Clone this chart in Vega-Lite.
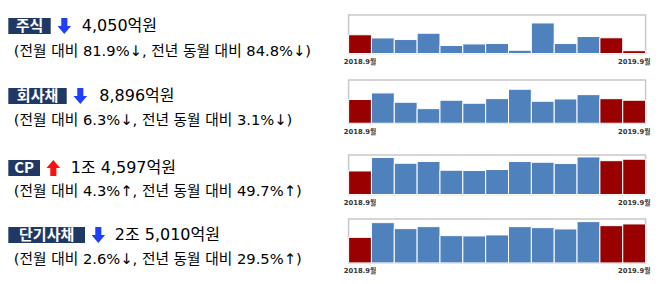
{
  "$schema": "https://vega.github.io/schema/vega-lite/v6.json",
  "background": "white",
  "padding": {"left": 8.3, "top": 13.95, "right": 0, "bottom": 0},
  "config": {"view": {"stroke": null}, "font": "DejaVu Sans, Noto Sans CJK KR"},
  "datasets": {
    "summary": [
      {"cat": "주식", "dir": "down", "amount": "4,050억원", "change": "(전월 대비 81.9%↓, 전년 동월 대비 84.8%↓)"},
      {"cat": "회사채", "dir": "down", "amount": "8,896억원", "change": "(전월 대비 6.3%↓, 전년 동월 대비 3.1%↓)"},
      {"cat": "CP", "dir": "up", "amount": "1조 4,597억원", "change": "(전월 대비 4.3%↑, 전년 동월 대비 49.7%↑)"},
      {"cat": "단기사채", "dir": "down", "amount": "2조 5,010억원", "change": "(전월 대비 2.6%↓, 전년 동월 대비 29.5%↑)"}
    ],
    "flows": [
      {"cat": "주식", "month": "2018.9", "value": 26645},
      {"cat": "주식", "month": "2018.10", "value": 22150},
      {"cat": "주식", "month": "2018.11", "value": 19880},
      {"cat": "주식", "month": "2018.12", "value": 28830},
      {"cat": "주식", "month": "2019.1", "value": 11360},
      {"cat": "주식", "month": "2019.2", "value": 13630},
      {"cat": "주식", "month": "2019.3", "value": 14200},
      {"cat": "주식", "month": "2019.4", "value": 4690},
      {"cat": "주식", "month": "2019.5", "value": 43450},
      {"cat": "주식", "month": "2019.6", "value": 14200},
      {"cat": "주식", "month": "2019.7", "value": 24140},
      {"cat": "주식", "month": "2019.8", "value": 22376},
      {"cat": "주식", "month": "2019.9", "value": 4050},
      {"cat": "회사채", "month": "2018.9", "value": 9181},
      {"cat": "회사채", "month": "2018.10", "value": 11720},
      {"cat": "회사채", "month": "2018.11", "value": 8120},
      {"cat": "회사채", "month": "2018.12", "value": 5650},
      {"cat": "회사채", "month": "2019.1", "value": 8900},
      {"cat": "회사채", "month": "2019.2", "value": 7740},
      {"cat": "회사채", "month": "2019.3", "value": 9520},
      {"cat": "회사채", "month": "2019.4", "value": 13150},
      {"cat": "회사채", "month": "2019.5", "value": 8510},
      {"cat": "회사채", "month": "2019.6", "value": 9400},
      {"cat": "회사채", "month": "2019.7", "value": 11060},
      {"cat": "회사채", "month": "2019.8", "value": 9494},
      {"cat": "회사채", "month": "2019.9", "value": 8896},
      {"cat": "CP", "month": "2018.9", "value": 9751},
      {"cat": "CP", "month": "2018.10", "value": 15300},
      {"cat": "CP", "month": "2018.11", "value": 12940},
      {"cat": "CP", "month": "2018.12", "value": 13645},
      {"cat": "CP", "month": "2019.1", "value": 10050},
      {"cat": "CP", "month": "2019.2", "value": 9924},
      {"cat": "CP", "month": "2019.3", "value": 10340},
      {"cat": "CP", "month": "2019.4", "value": 13645},
      {"cat": "CP", "month": "2019.5", "value": 13356},
      {"cat": "CP", "month": "2019.6", "value": 12820},
      {"cat": "CP", "month": "2019.7", "value": 15550},
      {"cat": "CP", "month": "2019.8", "value": 13995},
      {"cat": "CP", "month": "2019.9", "value": 14597},
      {"cat": "단기사채", "month": "2018.9", "value": 16420},
      {"cat": "단기사채", "month": "2018.10", "value": 25840},
      {"cat": "단기사채", "month": "2018.11", "value": 22000},
      {"cat": "단기사채", "month": "2018.12", "value": 23280},
      {"cat": "단기사채", "month": "2019.1", "value": 17510},
      {"cat": "단기사채", "month": "2019.2", "value": 17320},
      {"cat": "단기사채", "month": "2019.3", "value": 17960},
      {"cat": "단기사채", "month": "2019.4", "value": 23280},
      {"cat": "단기사채", "month": "2019.5", "value": 22640},
      {"cat": "단기사채", "month": "2019.6", "value": 21800},
      {"cat": "단기사채", "month": "2019.7", "value": 26490},
      {"cat": "단기사채", "month": "2019.8", "value": 23920},
      {"cat": "단기사채", "month": "2019.9", "value": 25010}
    ]
  },
  "spacing": 0,
  "vconcat": [
    {
      "spacing": 2.3,
      "hconcat": [
        {
          "spacing": 0,
          "vconcat": [
            {"width": 330, "height": 2.6, "data": {"name": "summary"}, "mark": {"type": "text", "text": "", "fontSize": 0}},
            {
              "spacing": 4,
              "hconcat": [
                {"width": 42.4, "height": 16, "data": {"name": "summary"}, "transform": [{"filter": "datum.cat == '주식'"}], "view": {"fill": "#203864"},
                 "mark": {"type": "text", "color": "white", "fontSize": 15, "fontWeight": "bold", "font": "Noto Sans CJK KR"}, "encoding": {"text": {"field": "cat"}}},
                {"width": 18, "height": 16, "data": {"name": "summary"}, "transform": [{"filter": "datum.cat == '주식'"}],
                 "mark": {"type": "point", "filled": true, "size": 256, "opacity": 1, "strokeWidth": 0},
                 "encoding": {
                   "shape": {"field": "dir", "type": "nominal", "scale": {"domain": ["down", "up"], "range": ["M-0.38,-1L0.38,-1L0.38,0L0.85,0L0,1L-0.85,0L-0.38,0Z", "M-0.38,1L0.38,1L0.38,0L0.85,0L0,-1L-0.85,0L-0.38,0Z"]}, "legend": null},
                   "color": {"field": "dir", "type": "nominal", "scale": {"domain": ["down", "up"], "range": ["#1f3fff", "#ff1010"]}, "legend": null}}},
                {"width": 261.6, "height": 16, "data": {"name": "summary"}, "transform": [{"filter": "datum.cat == '주식'"}],
                 "mark": {"type": "text", "align": "left", "dx": 4.5, "fontSize": 16, "color": "black"},
                 "encoding": {"x": {"datum": 0, "type": "quantitative", "scale": {"domain": [0, 1]}, "axis": null}, "text": {"field": "amount"}}}
              ]
            },
            {"width": 330, "height": 9.5, "data": {"name": "summary"}, "mark": {"type": "text", "text": "", "fontSize": 0}},
            {"width": 330, "height": 14, "data": {"name": "summary"}, "transform": [{"filter": "datum.cat == '주식'"}],
             "mark": {"type": "text", "align": "left", "dx": 5.5, "fontSize": 14.7, "color": "black"},
             "encoding": {"x": {"datum": 0, "type": "quantitative", "scale": {"domain": [0, 1]}, "axis": null}, "text": {"field": "change"}}},
            {"width": 330, "height": 19.2, "data": {"name": "summary"}, "mark": {"type": "text", "text": "", "fontSize": 0}}
          ]
        },
        {
          "width": 297, "height": 38.6,
          "data": {"name": "flows"}, "transform": [{"filter": "datum.cat == '주식'"}],
          "view": {"stroke": "#c8c8c8", "strokeWidth": 1.5},
          "mark": {"type": "bar", "stroke": "white", "strokeWidth": 1},
          "encoding": {
            "x": {"field": "month", "type": "ordinal", "sort": null, "scale": {"paddingInner": 0, "paddingOuter": 0},
                  "axis": {"values": ["2018.9", "2019.9"], "labelExpr": "datum.value + '월'", "ticks": false, "tickSize": 0, "domain": false, "grid": false, "title": null, "labelAngle": 0, "labelPadding": 5, "labelFontSize": 6.8, "labelFontWeight": "bold", "labelColor": "#333333"}},
            "y": {"field": "value", "type": "quantitative", "scale": {"domain": [0, 54800], "nice": false}, "axis": null},
            "color": {"condition": {"test": "datum.month == '2018.9' || datum.month == '2019.8' || datum.month == '2019.9'", "value": "#990000"}, "value": "#4f81bd"}
          }
        }
      ]
    },
    {
      "spacing": 2.3,
      "hconcat": [
        {
          "spacing": 0,
          "vconcat": [
            {"width": 330, "height": 7.3, "data": {"name": "summary"}, "mark": {"type": "text", "text": "", "fontSize": 0}},
            {
              "spacing": 4,
              "hconcat": [
                {"width": 58.4, "height": 16, "data": {"name": "summary"}, "transform": [{"filter": "datum.cat == '회사채'"}], "view": {"fill": "#203864"},
                 "mark": {"type": "text", "color": "white", "fontSize": 15, "fontWeight": "bold", "font": "Noto Sans CJK KR"}, "encoding": {"text": {"field": "cat"}}},
                {"width": 18, "height": 16, "data": {"name": "summary"}, "transform": [{"filter": "datum.cat == '회사채'"}],
                 "mark": {"type": "point", "filled": true, "size": 256, "opacity": 1, "strokeWidth": 0},
                 "encoding": {
                   "shape": {"field": "dir", "type": "nominal", "scale": {"domain": ["down", "up"], "range": ["M-0.38,-1L0.38,-1L0.38,0L0.85,0L0,1L-0.85,0L-0.38,0Z", "M-0.38,1L0.38,1L0.38,0L0.85,0L0,-1L-0.85,0L-0.38,0Z"]}, "legend": null},
                   "color": {"field": "dir", "type": "nominal", "scale": {"domain": ["down", "up"], "range": ["#1f3fff", "#ff1010"]}, "legend": null}}},
                {"width": 245.6, "height": 16, "data": {"name": "summary"}, "transform": [{"filter": "datum.cat == '회사채'"}],
                 "mark": {"type": "text", "align": "left", "dx": 6, "fontSize": 16, "color": "black"},
                 "encoding": {"x": {"datum": 0, "type": "quantitative", "scale": {"domain": [0, 1]}, "axis": null}, "text": {"field": "amount"}}}
              ]
            },
            {"width": 330, "height": 8.7, "data": {"name": "summary"}, "mark": {"type": "text", "text": "", "fontSize": 0}},
            {"width": 330, "height": 14, "data": {"name": "summary"}, "transform": [{"filter": "datum.cat == '회사채'"}],
             "mark": {"type": "text", "align": "left", "dx": 5.5, "fontSize": 14.7, "color": "black"},
             "encoding": {"x": {"datum": 0, "type": "quantitative", "scale": {"domain": [0, 1]}, "axis": null}, "text": {"field": "change"}}},
            {"width": 330, "height": 25.7, "data": {"name": "summary"}, "mark": {"type": "text", "text": "", "fontSize": 0}}
          ]
        },
        {
          "width": 297, "height": 43.3,
          "data": {"name": "flows"}, "transform": [{"filter": "datum.cat == '회사채'"}],
          "view": {"stroke": "#c8c8c8", "strokeWidth": 1.5},
          "mark": {"type": "bar", "stroke": "white", "strokeWidth": 1},
          "encoding": {
            "x": {"field": "month", "type": "ordinal", "sort": null, "scale": {"paddingInner": 0, "paddingOuter": 0},
                  "axis": {"values": ["2018.9", "2019.9"], "labelExpr": "datum.value + '월'", "ticks": false, "tickSize": 0, "domain": false, "grid": false, "title": null, "labelAngle": 0, "labelPadding": 5, "labelFontSize": 6.8, "labelFontWeight": "bold", "labelColor": "#333333"}},
            "y": {"field": "value", "type": "quantitative", "scale": {"domain": [0, 16750], "nice": false}, "axis": null},
            "color": {"condition": {"test": "datum.month == '2018.9' || datum.month == '2019.8' || datum.month == '2019.9'", "value": "#990000"}, "value": "#4f81bd"}
          }
        }
      ]
    },
    {
      "spacing": 2.3,
      "hconcat": [
        {
          "spacing": 0,
          "vconcat": [
            {"width": 330, "height": 4.6, "data": {"name": "summary"}, "mark": {"type": "text", "text": "", "fontSize": 0}},
            {
              "spacing": 4,
              "hconcat": [
                {"width": 31.7, "height": 16, "data": {"name": "summary"}, "transform": [{"filter": "datum.cat == 'CP'"}], "view": {"fill": "#203864"},
                 "mark": {"type": "text", "color": "white", "fontSize": 15, "fontWeight": "bold", "font": "Noto Sans CJK KR"}, "encoding": {"text": {"field": "cat"}}},
                {"width": 18, "height": 16, "data": {"name": "summary"}, "transform": [{"filter": "datum.cat == 'CP'"}],
                 "mark": {"type": "point", "filled": true, "size": 256, "opacity": 1, "strokeWidth": 0},
                 "encoding": {
                   "shape": {"field": "dir", "type": "nominal", "scale": {"domain": ["down", "up"], "range": ["M-0.38,-1L0.38,-1L0.38,0L0.85,0L0,1L-0.85,0L-0.38,0Z", "M-0.38,1L0.38,1L0.38,0L0.85,0L0,-1L-0.85,0L-0.38,0Z"]}, "legend": null},
                   "color": {"field": "dir", "type": "nominal", "scale": {"domain": ["down", "up"], "range": ["#1f3fff", "#ff1010"]}, "legend": null}}},
                {"width": 272.3, "height": 16, "data": {"name": "summary"}, "transform": [{"filter": "datum.cat == 'CP'"}],
                 "mark": {"type": "text", "align": "left", "dx": 4.5, "fontSize": 16, "color": "black"},
                 "encoding": {"x": {"datum": 0, "type": "quantitative", "scale": {"domain": [0, 1]}, "axis": null}, "text": {"field": "amount"}}}
              ]
            },
            {"width": 330, "height": 7.2, "data": {"name": "summary"}, "mark": {"type": "text", "text": "", "fontSize": 0}},
            {"width": 330, "height": 14, "data": {"name": "summary"}, "transform": [{"filter": "datum.cat == 'CP'"}],
             "mark": {"type": "text", "align": "left", "dx": 5.5, "fontSize": 14.7, "color": "black"},
             "encoding": {"x": {"datum": 0, "type": "quantitative", "scale": {"domain": [0, 1]}, "axis": null}, "text": {"field": "change"}}},
            {"width": 330, "height": 19, "data": {"name": "summary"}, "mark": {"type": "text", "text": "", "fontSize": 0}}
          ]
        },
        {
          "width": 297, "height": 39.6,
          "data": {"name": "flows"}, "transform": [{"filter": "datum.cat == 'CP'"}],
          "view": {"stroke": "#c8c8c8", "strokeWidth": 1.5},
          "mark": {"type": "bar", "stroke": "white", "strokeWidth": 1},
          "encoding": {
            "x": {"field": "month", "type": "ordinal", "sort": null, "scale": {"paddingInner": 0, "paddingOuter": 0},
                  "axis": {"values": ["2018.9", "2019.9"], "labelExpr": "datum.value + '월'", "ticks": false, "tickSize": 0, "domain": false, "grid": false, "title": null, "labelAngle": 0, "labelPadding": 5, "labelFontSize": 6.8, "labelFontWeight": "bold", "labelColor": "#333333"}},
            "y": {"field": "value", "type": "quantitative", "scale": {"domain": [0, 16375], "nice": false}, "axis": null},
            "color": {"condition": {"test": "datum.month == '2018.9' || datum.month == '2019.8' || datum.month == '2019.9'", "value": "#990000"}, "value": "#4f81bd"}
          }
        }
      ]
    },
    {
      "spacing": 2.3,
      "hconcat": [
        {
          "spacing": 0,
          "vconcat": [
            {"width": 330, "height": 7.7, "data": {"name": "summary"}, "mark": {"type": "text", "text": "", "fontSize": 0}},
            {
              "spacing": 4,
              "hconcat": [
                {"width": 76.7, "height": 16, "data": {"name": "summary"}, "transform": [{"filter": "datum.cat == '단기사채'"}], "view": {"fill": "#203864"},
                 "mark": {"type": "text", "color": "white", "fontSize": 15, "fontWeight": "bold", "font": "Noto Sans CJK KR"}, "encoding": {"text": {"field": "cat"}}},
                {"width": 18, "height": 16, "data": {"name": "summary"}, "transform": [{"filter": "datum.cat == '단기사채'"}],
                 "mark": {"type": "point", "filled": true, "size": 256, "opacity": 1, "strokeWidth": 0},
                 "encoding": {
                   "shape": {"field": "dir", "type": "nominal", "scale": {"domain": ["down", "up"], "range": ["M-0.38,-1L0.38,-1L0.38,0L0.85,0L0,1L-0.85,0L-0.38,0Z", "M-0.38,1L0.38,1L0.38,0L0.85,0L0,-1L-0.85,0L-0.38,0Z"]}, "legend": null},
                   "color": {"field": "dir", "type": "nominal", "scale": {"domain": ["down", "up"], "range": ["#1f3fff", "#ff1010"]}, "legend": null}}},
                {"width": 227.3, "height": 16, "data": {"name": "summary"}, "transform": [{"filter": "datum.cat == '단기사채'"}],
                 "mark": {"type": "text", "align": "left", "dx": 3.5, "fontSize": 16, "color": "black"},
                 "encoding": {"x": {"datum": 0, "type": "quantitative", "scale": {"domain": [0, 1]}, "axis": null}, "text": {"field": "amount"}}}
              ]
            },
            {"width": 330, "height": 8.8, "data": {"name": "summary"}, "mark": {"type": "text", "text": "", "fontSize": 0}},
            {"width": 330, "height": 14, "data": {"name": "summary"}, "transform": [{"filter": "datum.cat == '단기사채'"}],
             "mark": {"type": "text", "align": "left", "dx": 5.5, "fontSize": 14.7, "color": "black"},
             "encoding": {"x": {"datum": 0, "type": "quantitative", "scale": {"domain": [0, 1]}, "axis": null}, "text": {"field": "change"}}}
          ]
        },
        {
          "width": 297, "height": 44,
          "data": {"name": "flows"}, "transform": [{"filter": "datum.cat == '단기사채'"}],
          "view": {"stroke": "#c8c8c8", "strokeWidth": 1.5},
          "mark": {"type": "bar", "stroke": "white", "strokeWidth": 1},
          "encoding": {
            "x": {"field": "month", "type": "ordinal", "sort": null, "scale": {"paddingInner": 0, "paddingOuter": 0},
                  "axis": {"values": ["2018.9", "2019.9"], "labelExpr": "datum.value + '월'", "ticks": false, "tickSize": 0, "domain": false, "grid": false, "title": null, "labelAngle": 0, "labelPadding": 5, "labelFontSize": 6.8, "labelFontWeight": "bold", "labelColor": "#333333"}},
            "y": {"field": "value", "type": "quantitative", "scale": {"domain": [0, 28220], "nice": false}, "axis": null},
            "color": {"condition": {"test": "datum.month == '2018.9' || datum.month == '2019.8' || datum.month == '2019.9'", "value": "#990000"}, "value": "#4f81bd"}
          }
        }
      ]
    }
  ]
}
